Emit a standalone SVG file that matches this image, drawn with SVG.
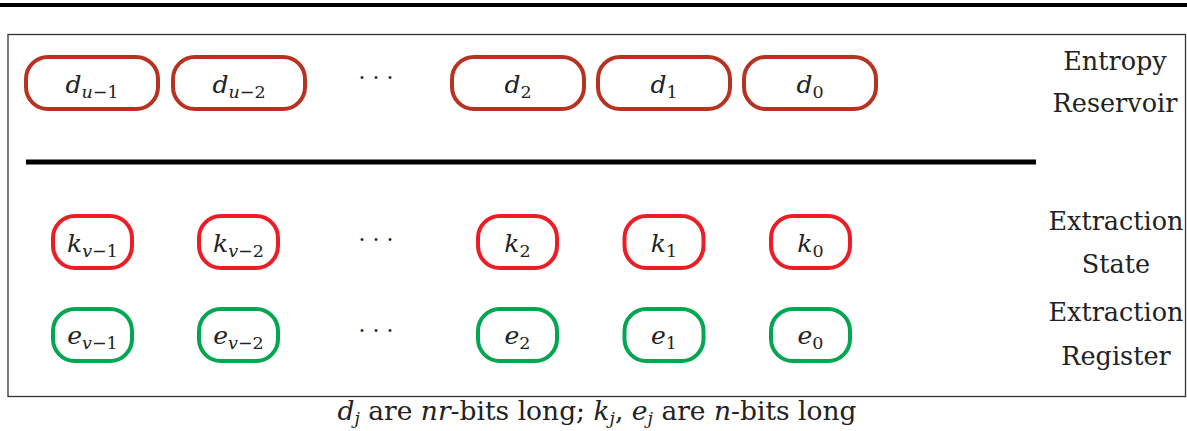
<svg xmlns="http://www.w3.org/2000/svg" width="1187" height="431" viewBox="0 0 1187 431">
<style>
.bg{fill:#ffffff}
.frame{fill:none;stroke:#333;stroke-width:1.3}
.rule{stroke:#000;stroke-width:4}
.sep{stroke:#000;stroke-width:5}
.d{fill:none;stroke:#B83222;stroke-width:4}
.k{fill:none;stroke:#EE1C25;stroke-width:4}
.e{fill:none;stroke:#00A650;stroke-width:4}
.m{font-family:"DejaVu Serif","Liberation Serif",serif;font-size:25px;fill:#222;text-anchor:middle}
.i{font-style:italic}
.s{font-size:17.5px}
.lab{font-family:"DejaVu Serif","Liberation Serif",serif;font-size:25.5px;fill:#222;text-anchor:middle}
.cap{font-family:"DejaVu Serif","Liberation Serif",serif;font-size:26.5px;fill:#222;text-anchor:middle}
.dots{font-family:"DejaVu Serif",serif;font-size:22px;fill:#222;text-anchor:middle}
</style>
<rect class="bg" x="0" y="0" width="1187" height="431"/>
<line class="rule" x1="0" y1="5" x2="1187" y2="5"/>
<rect class="frame" x="8" y="34.5" width="1177.5" height="362"/>
<line class="sep" x1="26" y1="162" x2="1036" y2="162"/>

<g id="d_u-1"><rect class="d" x="26" y="57" width="132" height="52" rx="22"/><text class="m" x="92" y="93"><tspan class="i">d</tspan><tspan class="s" dy="5"><tspan class="i">u</tspan>−1</tspan></text></g>
<g id="d_u-2"><rect class="d" x="173" y="57" width="132" height="52" rx="22"/><text class="m" x="239" y="93"><tspan class="i">d</tspan><tspan class="s" dy="5"><tspan class="i">u</tspan>−2</tspan></text></g>
<g id="d_dots"><text class="dots" x="376" y="85">· · ·</text></g>
<g id="d_2"><rect class="d" x="452" y="57" width="132" height="52" rx="22"/><text class="m" x="518" y="93"><tspan class="i">d</tspan><tspan class="s" dy="5">2</tspan></text></g>
<g id="d_1"><rect class="d" x="598" y="57" width="132" height="52" rx="22"/><text class="m" x="664" y="93"><tspan class="i">d</tspan><tspan class="s" dy="5">1</tspan></text></g>
<g id="d_0"><rect class="d" x="744" y="57" width="132" height="52" rx="22"/><text class="m" x="810" y="93"><tspan class="i">d</tspan><tspan class="s" dy="5">0</tspan></text></g>

<g id="k_v-1"><rect class="k" x="53" y="216" width="79" height="52" rx="22"/><text class="m" x="92.5" y="252"><tspan class="i">k</tspan><tspan class="s" dy="5"><tspan class="i">v</tspan>−1</tspan></text></g>
<g id="k_v-2"><rect class="k" x="199" y="216" width="79" height="52" rx="22"/><text class="m" x="238.5" y="252"><tspan class="i">k</tspan><tspan class="s" dy="5"><tspan class="i">v</tspan>−2</tspan></text></g>
<g id="k_dots"><text class="dots" x="376" y="247">· · ·</text></g>
<g id="k_2"><rect class="k" x="478" y="216" width="79" height="52" rx="22"/><text class="m" x="517.5" y="252"><tspan class="i">k</tspan><tspan class="s" dy="5">2</tspan></text></g>
<g id="k_1"><rect class="k" x="624.5" y="216" width="79" height="52" rx="22"/><text class="m" x="664" y="252"><tspan class="i">k</tspan><tspan class="s" dy="5">1</tspan></text></g>
<g id="k_0"><rect class="k" x="771" y="216" width="79" height="52" rx="22"/><text class="m" x="810.5" y="252"><tspan class="i">k</tspan><tspan class="s" dy="5">0</tspan></text></g>

<g id="e_v-1"><rect class="e" x="53" y="309" width="79" height="52" rx="22"/><text class="m" x="92.5" y="344"><tspan class="i">e</tspan><tspan class="s" dy="5"><tspan class="i">v</tspan>−1</tspan></text></g>
<g id="e_v-2"><rect class="e" x="199" y="309" width="79" height="52" rx="22"/><text class="m" x="238.5" y="344"><tspan class="i">e</tspan><tspan class="s" dy="5"><tspan class="i">v</tspan>−2</tspan></text></g>
<g id="e_dots"><text class="dots" x="376" y="338">· · ·</text></g>
<g id="e_2"><rect class="e" x="478" y="309" width="79" height="52" rx="22"/><text class="m" x="517.5" y="344"><tspan class="i">e</tspan><tspan class="s" dy="5">2</tspan></text></g>
<g id="e_1"><rect class="e" x="624.5" y="309" width="79" height="52" rx="22"/><text class="m" x="664" y="344"><tspan class="i">e</tspan><tspan class="s" dy="5">1</tspan></text></g>
<g id="e_0"><rect class="e" x="771" y="309" width="79" height="52" rx="22"/><text class="m" x="810.5" y="344"><tspan class="i">e</tspan><tspan class="s" dy="5">0</tspan></text></g>

<g id="labels">
<text class="lab" x="1115" y="70">Entropy</text>
<text class="lab" x="1115" y="112">Reservoir</text>
<text class="lab" x="1116" y="230">Extraction</text>
<text class="lab" x="1116" y="273">State</text>
<text class="lab" x="1116" y="321">Extraction</text>
<text class="lab" x="1116" y="365">Register</text>
</g>
<g id="connectors"></g>
<text class="cap" x="597" y="420"><tspan class="i">d</tspan><tspan class="s i" dy="4">j</tspan><tspan dy="-4"> are </tspan><tspan class="i">nr</tspan>-bits long; <tspan class="i">k</tspan><tspan class="s i" dy="4">j</tspan><tspan dy="-4">, </tspan><tspan class="i">e</tspan><tspan class="s i" dy="4">j</tspan><tspan dy="-4"> are </tspan><tspan class="i">n</tspan>-bits long</text>
</svg>
